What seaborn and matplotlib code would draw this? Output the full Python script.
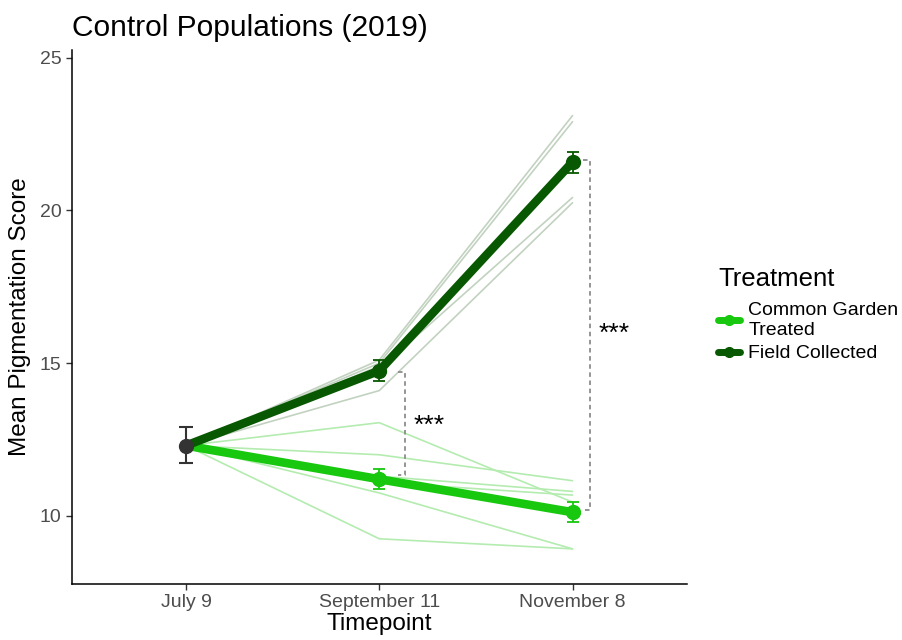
import matplotlib
matplotlib.use("Agg")
import matplotlib.pyplot as plt
from matplotlib.lines import Line2D
import numpy as np
import pandas as pd
import seaborn as sns

# Timepoints and group summaries
timepoints = ["July 9", "September 11", "November 8"]
baseline_mean = 12.3
baseline_lo, baseline_hi = 11.72, 12.92

treatments = ["Common Garden\nTreated", "Field Collected"]
garden_mean = [12.3, 11.2, 10.12]
garden_lo = [None, 10.88, 9.8]
garden_hi = [None, 11.55, 10.45]
field_mean = [12.3, 14.75, 21.58]
field_lo = [None, 14.4, 21.22]
field_hi = [None, 15.1, 21.92]

# Individual population trajectories
garden_pops = {
    "G1": [12.3, 13.05, 10.45],
    "G2": [12.3, 12.0, 11.15],
    "G3": [12.3, 11.3, 10.8],
    "G4": [12.3, 11.1, 10.68],
    "G5": [12.3, 10.75, 8.92],
    "G6": [12.3, 9.25, 8.92],
}
field_pops = {
    "F1": [12.3, 15.1, 23.1],
    "F2": [12.3, 15.0, 22.9],
    "F3": [12.3, 14.9, 21.7],
    "F4": [12.3, 14.8, 20.42],
    "F5": [12.3, 14.1, 20.25],
}

garden_col = "#17c80f"
field_col = "#075800"
garden_light = "#b4ecb0"
field_light = "#c2d2c0"

sns.set_theme(style="ticks")
plt.rcParams["font.family"] = ["Liberation Sans", "DejaVu Sans"]
plt.rcParams["text.color"] = "black"
plt.rcParams["axes.labelcolor"] = "black"

rows = []
for name, vals in garden_pops.items():
    for i, v in enumerate(vals):
        rows.append(dict(pos=i + 1, score=v, pop=name, Treatment=treatments[0]))
for name, vals in field_pops.items():
    for i, v in enumerate(vals):
        rows.append(dict(pos=i + 1, score=v, pop=name, Treatment=treatments[1]))
ind = pd.DataFrame(rows)

means = pd.DataFrame(
    [dict(pos=i + 1, score=v, Treatment=treatments[0]) for i, v in enumerate(garden_mean)]
    + [dict(pos=i + 1, score=v, Treatment=treatments[1]) for i, v in enumerate(field_mean)]
)

fig = plt.figure(figsize=(9.03, 6.4), dpi=100)
ax = fig.add_axes([0.0797, 0.0875, 0.6806, 0.8345])

sns.lineplot(data=ind, x="pos", y="score", hue="Treatment", units="pop",
             estimator=None, palette={treatments[0]: garden_light, treatments[1]: field_light},
             linewidth=1.2, legend=False, ax=ax, zorder=1)

sns.lineplot(data=means, x="pos", y="score", hue="Treatment",
             palette={treatments[0]: garden_col, treatments[1]: field_col},
             linewidth=6.2, legend=False, ax=ax, zorder=3)

for m, lo, hi, c in [(garden_mean, garden_lo, garden_hi, garden_col),
                     (field_mean, field_lo, field_hi, field_col)]:
    xs = [2, 3]
    ys = m[1:]
    err = [[ys[k] - lo[k + 1] for k in range(2)], [hi[k + 1] - ys[k] for k in range(2)]]
    ax.errorbar(xs, ys, yerr=err, fmt="o", color=c, ms=10, capsize=4,
                elinewidth=1.3, capthick=1.3, zorder=4)

ax.errorbar([1], [baseline_mean],
            yerr=[[baseline_mean - baseline_lo], [baseline_hi - baseline_mean]],
            fmt="o", color="#333333", ms=10, capsize=5, elinewidth=1.5,
            capthick=1.5, zorder=5)

# Significance brackets
def bracket(x, y0, y1, label, ty):
    ax.plot([x - 0.037, x, x, x - 0.037], [y1, y1, y0, y0], ls=(0, (2.5, 2)),
            color="#8c8c8c", lw=1.3, zorder=2)
    ax.text(x + 0.04, ty, label, fontsize=19, ha="left", va="center",
            color="black")

bracket(2.135, 11.35, 14.72, "***", 12.95)
bracket(3.093, 10.2, 21.65, "***", 15.95)

ax.set_xlim(0.41, 3.59)
ax.set_ylim(7.77, 25.25)
ax.set_xticks([1, 2, 3])
ax.set_xticklabels(timepoints)
ax.set_yticks([10, 15, 20, 25])
ax.tick_params(axis="both", labelsize=14, labelcolor="#4d4d4d", length=4,
               width=1, color="#333333")
for s in ["top", "right"]:
    ax.spines[s].set_visible(False)
for s in ["left", "bottom"]:
    ax.spines[s].set_color("black")
    ax.spines[s].set_linewidth(1.1)
ax.set_xlabel("Timepoint", fontsize=17.5, labelpad=1)
ax.set_ylabel("Mean Pigmentation Score", fontsize=17.5, labelpad=6)
ax.set_title("Control Populations (2019)", fontsize=21.5, loc="left", x=0.0, pad=10)

handles = [Line2D([0], [0], color=garden_col, lw=5, marker="o", ms=7),
           Line2D([0], [0], color=field_col, lw=5, marker="o", ms=7)]
leg = fig.legend(handles, treatments, title="Treatment", loc="center left",
                 bbox_to_anchor=(0.776, 0.508), frameon=False, fontsize=14,
                 title_fontsize=18.5, handlelength=1.1, labelspacing=0.3,
                 handletextpad=0.45)
leg._legend_box.align = "left"
leg._legend_box.sep = 8

fig.savefig("out.png", dpi=100)
